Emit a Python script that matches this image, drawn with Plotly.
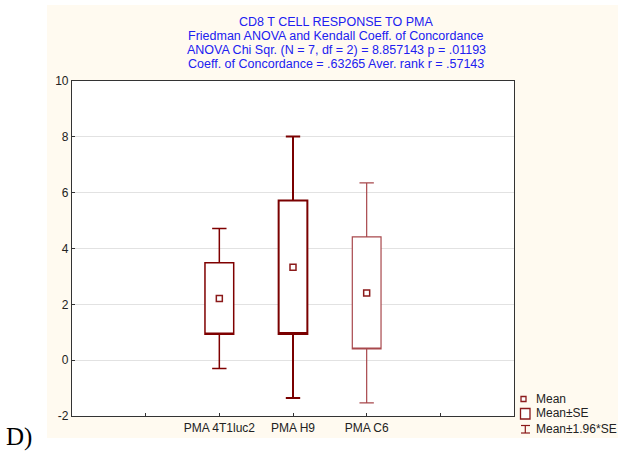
import plotly.graph_objects as go

# Group summaries: mean and standard error per condition
groups = ["PMA 4T1luc2", "PMA H9", "PMA C6"]
positions = [2, 3, 4]
means = [2.21, 3.33, 2.41]
ses = [1.28, 2.39, 2.01]

# Per-group outline styling
box_colors = ["#7f0000", "#7a0000", "#a8484c"]
box_widths = [1.5, 2.0, 1.2]

y_ticks = [-2, 0, 2, 4, 6, 8, 10]
y_tick_text = ["-2", "0", "2", "4", "6", "8", "10"]
x_tick_vals = [1, 2, 3, 4, 5]

title_lines = [
    "CD8 T CELL RESPONSE TO PMA",
    "Friedman ANOVA and Kendall Coeff. of Concordance",
    "ANOVA Chi Sqr. (N = 7, df = 2) = 8.857143 p = .01193",
    "Coeff. of Concordance = .63265 Aver. rank r = .57143",
]
legend_labels = ["Mean", "Mean±SE", "Mean±1.96*SE"]

W, H = 618, 452
L, R, T, B = 72, 514, 81, 416  # plot area in pixels


def px(x):
    return (x - L) / (R - L)


def py(y):
    return (B - y) / (B - T)


fig = go.Figure()

for i, g in enumerate(groups):
    m, s = means[i], ses[i]
    fig.add_trace(go.Box(
        x=[positions[i]],
        q1=[m - s], median=[m - s], q3=[m + s],
        lowerfence=[m - 1.96 * s], upperfence=[m + 1.96 * s],
        width=0.39, whiskerwidth=0.5,
        fillcolor="white",
        line=dict(color=box_colors[i], width=box_widths[i]),
        showlegend=False, hoverinfo="skip",
    ))

fig.add_trace(go.Scatter(
    x=positions, y=means, mode="markers",
    marker=dict(symbol="square-open", size=6, color="#8b1a1a",
                line=dict(width=1.5, color="#8b1a1a")),
    showlegend=False, hoverinfo="skip",
))

shapes = [
    # cream panel behind everything, white plot area on top of it
    dict(type="rect", xref="paper", yref="paper",
         x0=px(47), x1=px(620), y0=py(438), y1=py(5),
         fillcolor="#fffaf0", line=dict(width=0), layer="below"),
    dict(type="rect", xref="paper", yref="paper",
         x0=0, x1=1, y0=0, y1=1,
         fillcolor="white", line=dict(width=0), layer="below"),
]

leg_col = "#8b1a1a"
# legend: mean marker
shapes.append(dict(type="rect", xref="paper", yref="paper",
                   x0=px(521), x1=px(526), y0=py(401.5), y1=py(396.5),
                   line=dict(color=leg_col, width=1.3), fillcolor="white"))
# legend: SE box
shapes.append(dict(type="rect", xref="paper", yref="paper",
                   x0=px(520.5), x1=px(530), y0=py(419), y1=py(408.5),
                   line=dict(color=leg_col, width=1.3), fillcolor="white"))
# legend: whisker
for seg in [((525.3, 425.5), (525.3, 433)),
            ((521, 425.5), (530, 425.5)),
            ((521, 433), (530, 433))]:
    (xa, ya), (xb, yb) = seg
    shapes.append(dict(type="line", xref="paper", yref="paper",
                       x0=px(xa), x1=px(xb), y0=py(ya), y1=py(yb),
                       line=dict(color=leg_col, width=1.2)))

annotations = []
for k, line in enumerate(title_lines):
    annotations.append(dict(
        text=line, xref="paper", yref="paper",
        x=px(336), y=py(22 + 14 * k), xanchor="center", yanchor="middle",
        showarrow=False,
        font=dict(family="Liberation Sans, Arial", size=12.5, color="#2020f0"),
    ))

for k, (lab, yy) in enumerate(zip(legend_labels, [399, 413, 429])):
    annotations.append(dict(
        text=lab, xref="paper", yref="paper",
        x=px(534), y=py(yy), xanchor="left", yanchor="middle",
        showarrow=False,
        font=dict(family="Liberation Sans, Arial", size=12, color="#222222"),
    ))

annotations.append(dict(
    text="D)", xref="paper", yref="paper",
    x=px(4), y=py(437), xanchor="left", yanchor="middle", showarrow=False,
    font=dict(family="Liberation Serif, Times New Roman", size=25, color="black"),
))

fig.update_layout(
    width=W, height=H,
    margin=dict(l=L, r=W - R, t=T, b=H - B, pad=0),
    paper_bgcolor="white", plot_bgcolor="rgba(0,0,0,0)",
    shapes=shapes, annotations=annotations,
    showlegend=False, boxmode="overlay",
    font=dict(family="Liberation Sans, Arial", size=12, color="#222222"),
)

fig.update_xaxes(
    range=[0, 6], tickmode="array", tickvals=x_tick_vals,
    ticktext=[""] + groups + [""],
    ticks="inside", ticklen=3, tickcolor="#333333",
    showgrid=False, zeroline=False,
    showline=True, linecolor="#333333", linewidth=1.2, mirror=True,
    tickfont=dict(size=12, color="#222222"),
)
fig.update_yaxes(
    range=[-2, 10], tickmode="array", tickvals=y_ticks, ticktext=y_tick_text,
    ticks="inside", ticklen=3, tickcolor="#333333",
    showgrid=True, gridcolor="#e2e2e2", gridwidth=1, zeroline=False,
    showline=True, linecolor="#333333", linewidth=1.2, mirror=True,
    tickfont=dict(size=12, color="#222222"),
)

fig.write_html("out.html")
